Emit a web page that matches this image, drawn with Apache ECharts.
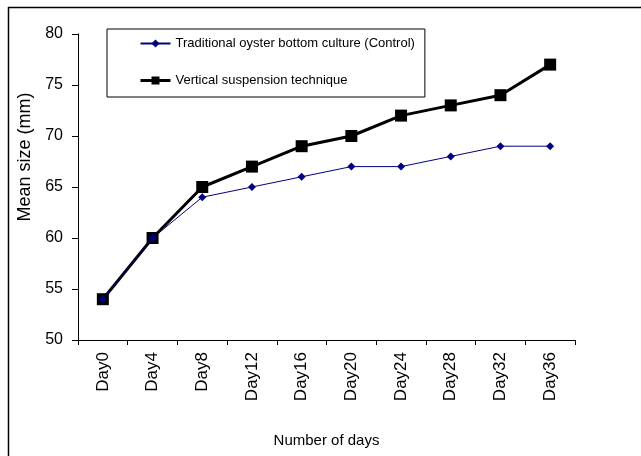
<!DOCTYPE html>
<html>
<head>
<meta charset="utf-8">
<script src="https://cdn.jsdelivr.net/npm/echarts@6/dist/echarts.min.js"></script>
<style>
  html, body { margin: 0; padding: 0; background: #fff; }
  #main { width: 641px; height: 456px; }
</style>
</head>
<body>
<div id="main"></div>
<script>
// data
var days = ['Day0', 'Day4', 'Day8', 'Day12', 'Day16', 'Day20', 'Day24', 'Day28', 'Day32', 'Day36'];
var controlSize = [54, 60, 64, 65, 66, 67, 67, 68, 69, 69];
var verticalSize = [54, 60, 65, 67, 69, 70, 72, 73, 74, 77];

var chart = echarts.init(document.getElementById('main'));
var font = 'Arial, "Liberation Sans", sans-serif';

var option = {
  backgroundColor: '#fff',
  animation: false,
  textStyle: { fontFamily: font },
  grid: { left: 78, right: 66, top: 34, bottom: 116 },
  legend: {
    orient: 'vertical',
    left: 107,
    top: 29,
    padding: [8, 10, 10, 32],
    itemGap: 24,
    itemWidth: 30,
    itemHeight: 10,
    borderColor: '#000',
    borderWidth: 1,
    borderRadius: 0,
    textStyle: { fontSize: 13, color: '#000', fontFamily: font },
    data: [
      { name: 'Traditional oyster bottom culture (Control)' },
      { name: 'Vertical suspension technique', lineStyle: { width: 3 } }
    ]
  },
  xAxis: {
    type: 'category',
    data: days,
    boundaryGap: true,
    name: 'Number of days',
    nameLocation: 'middle',
    nameGap: 93,
    nameTextStyle: { fontSize: 15, color: '#000', fontFamily: font },
    axisLine: { lineStyle: { color: '#000', width: 1 } },
    axisTick: { show: true, length: 5, inside: false, lineStyle: { color: '#000' } },
    axisLabel: { rotate: 90, fontSize: 17, color: '#000', margin: 12, fontFamily: font }
  },
  yAxis: {
    type: 'value',
    min: 50,
    max: 80,
    interval: 5,
    axisLine: { show: true, lineStyle: { color: '#000', width: 1 } },
    axisTick: { show: true, length: 6, lineStyle: { color: '#000' } },
    axisLabel: { fontSize: 16, color: '#000', margin: 15, fontFamily: font },
    splitLine: { show: false }
  },
  graphic: [
    { type: 'line', shape: { x1: 8, y1: 7.5, x2: 641, y2: 7.5 }, style: { stroke: '#000', lineWidth: 1.5 } },
    { type: 'line', shape: { x1: 8.5, y1: 7, x2: 8.5, y2: 456 }, style: { stroke: '#000', lineWidth: 1.5 } },
    {
      type: 'text',
      x: 25,
      y: 157,
      rotation: Math.PI / 2,
      style: {
        text: 'Mean size (mm)',
        fontSize: 18,
        fontFamily: font,
        fill: '#000',
        align: 'center',
        verticalAlign: 'middle'
      }
    }
  ],
  series: [
    {
      name: 'Traditional oyster bottom culture (Control)',
      type: 'line',
      data: controlSize,
      symbol: 'diamond',
      symbolSize: 8,
      itemStyle: { color: '#000080' },
      lineStyle: { color: '#000080', width: 1 },
      z: 3
    },
    {
      name: 'Vertical suspension technique',
      type: 'line',
      data: verticalSize,
      symbol: 'rect',
      symbolSize: 12,
      itemStyle: { color: '#000' },
      lineStyle: { color: '#000', width: 3 },
      z: 2
    }
  ]
};

chart.setOption(option);
</script>
</body>
</html>
